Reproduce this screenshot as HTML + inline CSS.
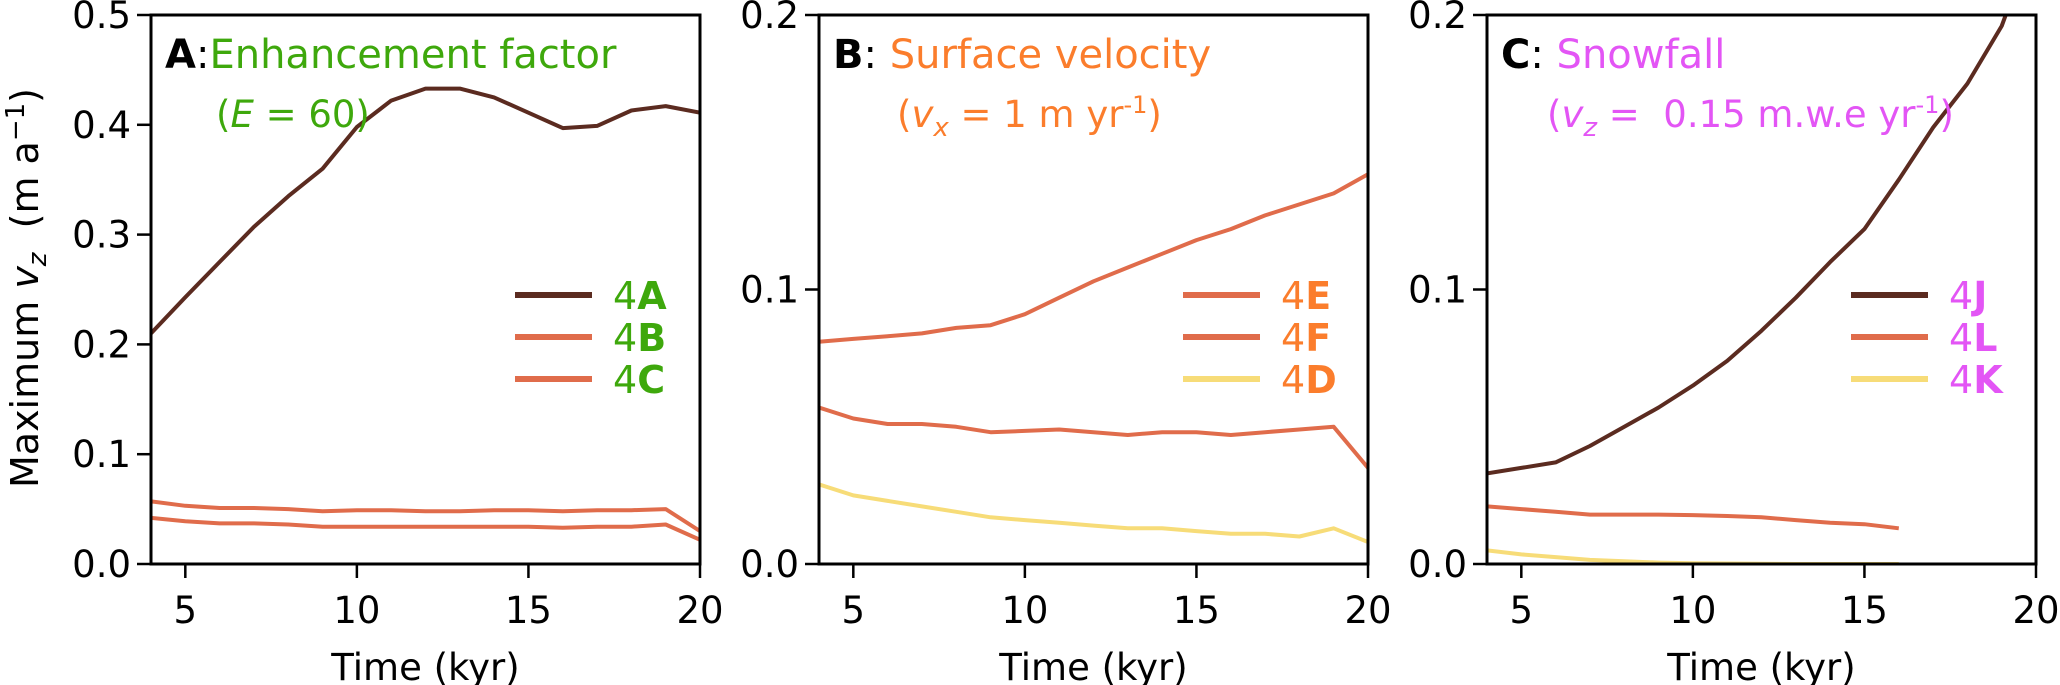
<!DOCTYPE html>
<html><head><meta charset="utf-8">
<style>
html,body{margin:0;padding:0;background:#fff;}
svg{display:block;font-family:"DejaVu Sans","Liberation Sans",sans-serif;}
</style></head>
<body>
<svg id="chart" width="2060" height="685" viewBox="0 0 2060 685" xmlns="http://www.w3.org/2000/svg"></svg>
<script>
const xYears = [4,5,6,7,8,9,10,11,12,13,14,15,16,17,18,19,20];
const s4A = [0.210,0.243,0.275,0.307,0.335,0.360,0.398,0.422,0.433,0.433,0.425,0.411,0.397,0.399,0.413,0.417,0.411];
const s4B = [0.057,0.053,0.051,0.051,0.050,0.048,0.049,0.049,0.048,0.048,0.049,0.049,0.048,0.049,0.049,0.050,0.030];
const s4C = [0.042,0.039,0.037,0.037,0.036,0.034,0.034,0.034,0.034,0.034,0.034,0.034,0.033,0.034,0.034,0.036,0.022];
const s4E = [0.081,0.082,0.083,0.084,0.086,0.087,0.091,0.097,0.103,0.108,0.113,0.118,0.122,0.127,0.131,0.135,0.142];
const s4F = [0.057,0.053,0.051,0.051,0.050,0.048,0.0485,0.049,0.048,0.047,0.048,0.048,0.047,0.048,0.049,0.050,0.035];
const s4D = [0.029,0.025,0.023,0.021,0.019,0.017,0.016,0.015,0.014,0.013,0.013,0.012,0.011,0.011,0.010,0.013,0.008];
const xC = [4,5,6,7,8,9,10,11,12,13,14,15,16,17,18,19,20];
const s4J = [0.033,0.035,0.037,0.043,0.050,0.057,0.065,0.074,0.085,0.097,0.110,0.122,0.140,0.159,0.175,0.196,0.230];
const xShort = [4,5,6,7,8,9,10,11,12,13,14,15,16];
const s4L = [0.021,0.020,0.019,0.018,0.018,0.018,0.0178,0.0175,0.017,0.016,0.015,0.0145,0.013];
const s4K = [0.005,0.0035,0.0025,0.0015,0.001,0.0005,0.0003,0.0002,0.0001,0,0,0,0];
const xTicks = [5,10,15,20];
const yTicksA = [0,0.1,0.2,0.3,0.4,0.5];
const yTicksBC = [0,0.1,0.2];

const NS = "http://www.w3.org/2000/svg";
const svg = document.getElementById('chart');
const TOP = 15, BOT = 564, XMIN = 4, XMAX = 20;
const DARK = '#5b2b20', ORANGE = '#e06c4b', YELLOW = '#f7dc78';
function mk(tag, attrs, parent){const e=document.createElementNS(NS,tag);for(const k in attrs)e.setAttribute(k,attrs[k]);(parent||svg).appendChild(e);return e;}

function panel(key, left, ymax, yTicks, series, legend, title){
  const right = left + 549;
  const g = mk('g', {});
  
  
  const sx = v => left + (v - XMIN) / (XMAX - XMIN) * (right - left);
  const sy = v => BOT - v / ymax * (BOT - TOP);
  const cid = 'clip' + key;
  const cp = mk('clipPath', {id: cid}, g);
  mk('rect', {x: left, y: TOP, width: right - left, height: BOT - TOP}, cp);
  series.forEach(s => {
    const pts = s.x.map((xv, i) => sx(xv).toFixed(1) + ',' + sy(s.y[i]).toFixed(1)).join(' ');
    const p = mk('polyline', {points: pts, fill: 'none', stroke: s.color, 'stroke-width': 4, 'stroke-linejoin': 'round', 'clip-path': 'url(#' + cid + ')'}, g);
    
    
  });
  const fr = mk('rect', {x: left, y: TOP, width: right - left, height: BOT - TOP, fill: 'none', stroke: '#000', 'stroke-width': 3}, g);
  
  
  yTicks.forEach(t => {
    const y = sy(t);
    mk('line', {x1: left - 14, x2: left, y1: y, y2: y, stroke: '#000', 'stroke-width': 2.5}, g);
    const tx = mk('text', {x: left - 20, y: y + 13, 'text-anchor': 'end', 'font-size': 37, fill: '#000'}, g);
    tx.textContent = t.toFixed(1);
    
    
  });
  xTicks.forEach(t => {
    const x = sx(t);
    mk('line', {x1: x, x2: x, y1: BOT, y2: BOT + 14, stroke: '#000', 'stroke-width': 2.5}, g);
    const tx = mk('text', {x: x, y: 623, 'text-anchor': 'middle', 'font-size': 37, fill: '#000'}, g);
    tx.textContent = t;
    
    
  });
  const xl = mk('text', {x: (left + right) / 2, y: 680, 'text-anchor': 'middle', 'font-size': 37, fill: '#000'}, g);
  xl.textContent = 'Time (kyr)';
  
  
  legend.forEach((l, i) => {
    const y = 295 + i * 42;
    const ln = mk('line', {x1: left + 364, x2: left + 441, y1: y, y2: y, stroke: l.color, 'stroke-width': 6}, g);
    
    
    const t = mk('text', {x: left + 462, y: y + 14, 'font-size': 38, fill: title.color}, g);
    t.innerHTML = '4<tspan font-weight="bold">' + l.letter + '</tspan>';
    
    
  });
  const t1 = mk('text', {x: left + 14, y: 68, 'font-size': 40, fill: title.color}, g);
  t1.innerHTML = '<tspan font-weight="bold" fill="#000">' + key + '</tspan><tspan fill="#000">:</tspan>' + title.l1;
  
  
  const t2 = mk('text', {x: left + title.l2x, y: 127, 'font-size': 37, fill: title.color}, g);
  t2.innerHTML = title.l2;
  
  
}

panel('A', 151, 0.5, yTicksA,
  [{name:'4A', x:xYears, y:s4A, color:DARK},{name:'4B', x:xYears, y:s4B, color:ORANGE},{name:'4C', x:xYears, y:s4C, color:ORANGE}],
  [{letter:'A', color:DARK},{letter:'B', color:ORANGE},{letter:'C', color:ORANGE}],
  {color:'#3ea80c', l1:'Enhancement factor', l2:'(<tspan font-style="italic">E</tspan> = 60)', l2x:65});
panel('B', 819, 0.2, yTicksBC,
  [{name:'4E', x:xYears, y:s4E, color:ORANGE},{name:'4F', x:xYears, y:s4F, color:ORANGE},{name:'4D', x:xYears, y:s4D, color:YELLOW}],
  [{letter:'E', color:ORANGE},{letter:'F', color:ORANGE},{letter:'D', color:YELLOW}],
  {color:'#fb7d2c', l1:' Surface velocity', l2:'(<tspan font-style="italic">v</tspan><tspan font-style="italic" font-size="26" dy="9">x</tspan><tspan dy="-9"> = 1 m yr</tspan><tspan font-size="24" dy="-14">-1</tspan><tspan dy="14">)</tspan>', l2x:78});
panel('C', 1487, 0.2, yTicksBC,
  [{name:'4J', x:xC, y:s4J, color:DARK},{name:'4L', x:xShort, y:s4L, color:ORANGE},{name:'4K', x:xShort, y:s4K, color:YELLOW}],
  [{letter:'J', color:DARK},{letter:'L', color:ORANGE},{letter:'K', color:YELLOW}],
  {color:'#e355f5', l1:' Snowfall', l2:'(<tspan font-style="italic">v</tspan><tspan font-style="italic" font-size="26" dy="9">z</tspan><tspan dy="-9"> =&#160; 0.15 m.w.e yr</tspan><tspan font-size="24" dy="-14">-1</tspan><tspan dy="14">)</tspan>', l2x:60});

const yl = mk('text', {x: 0, y: 0, 'text-anchor': 'middle', 'font-size': 38, fill: '#000', transform: 'translate(38,288) rotate(-90)'});
yl.innerHTML = 'Maximum <tspan font-style="italic">v</tspan><tspan font-style="italic" font-size="26" dy="8">z</tspan><tspan dy="-8">&#160;&#160;(m a</tspan><tspan font-size="26" dy="-14">−1</tspan><tspan dy="14">)</tspan>';


</script>
</body></html>
